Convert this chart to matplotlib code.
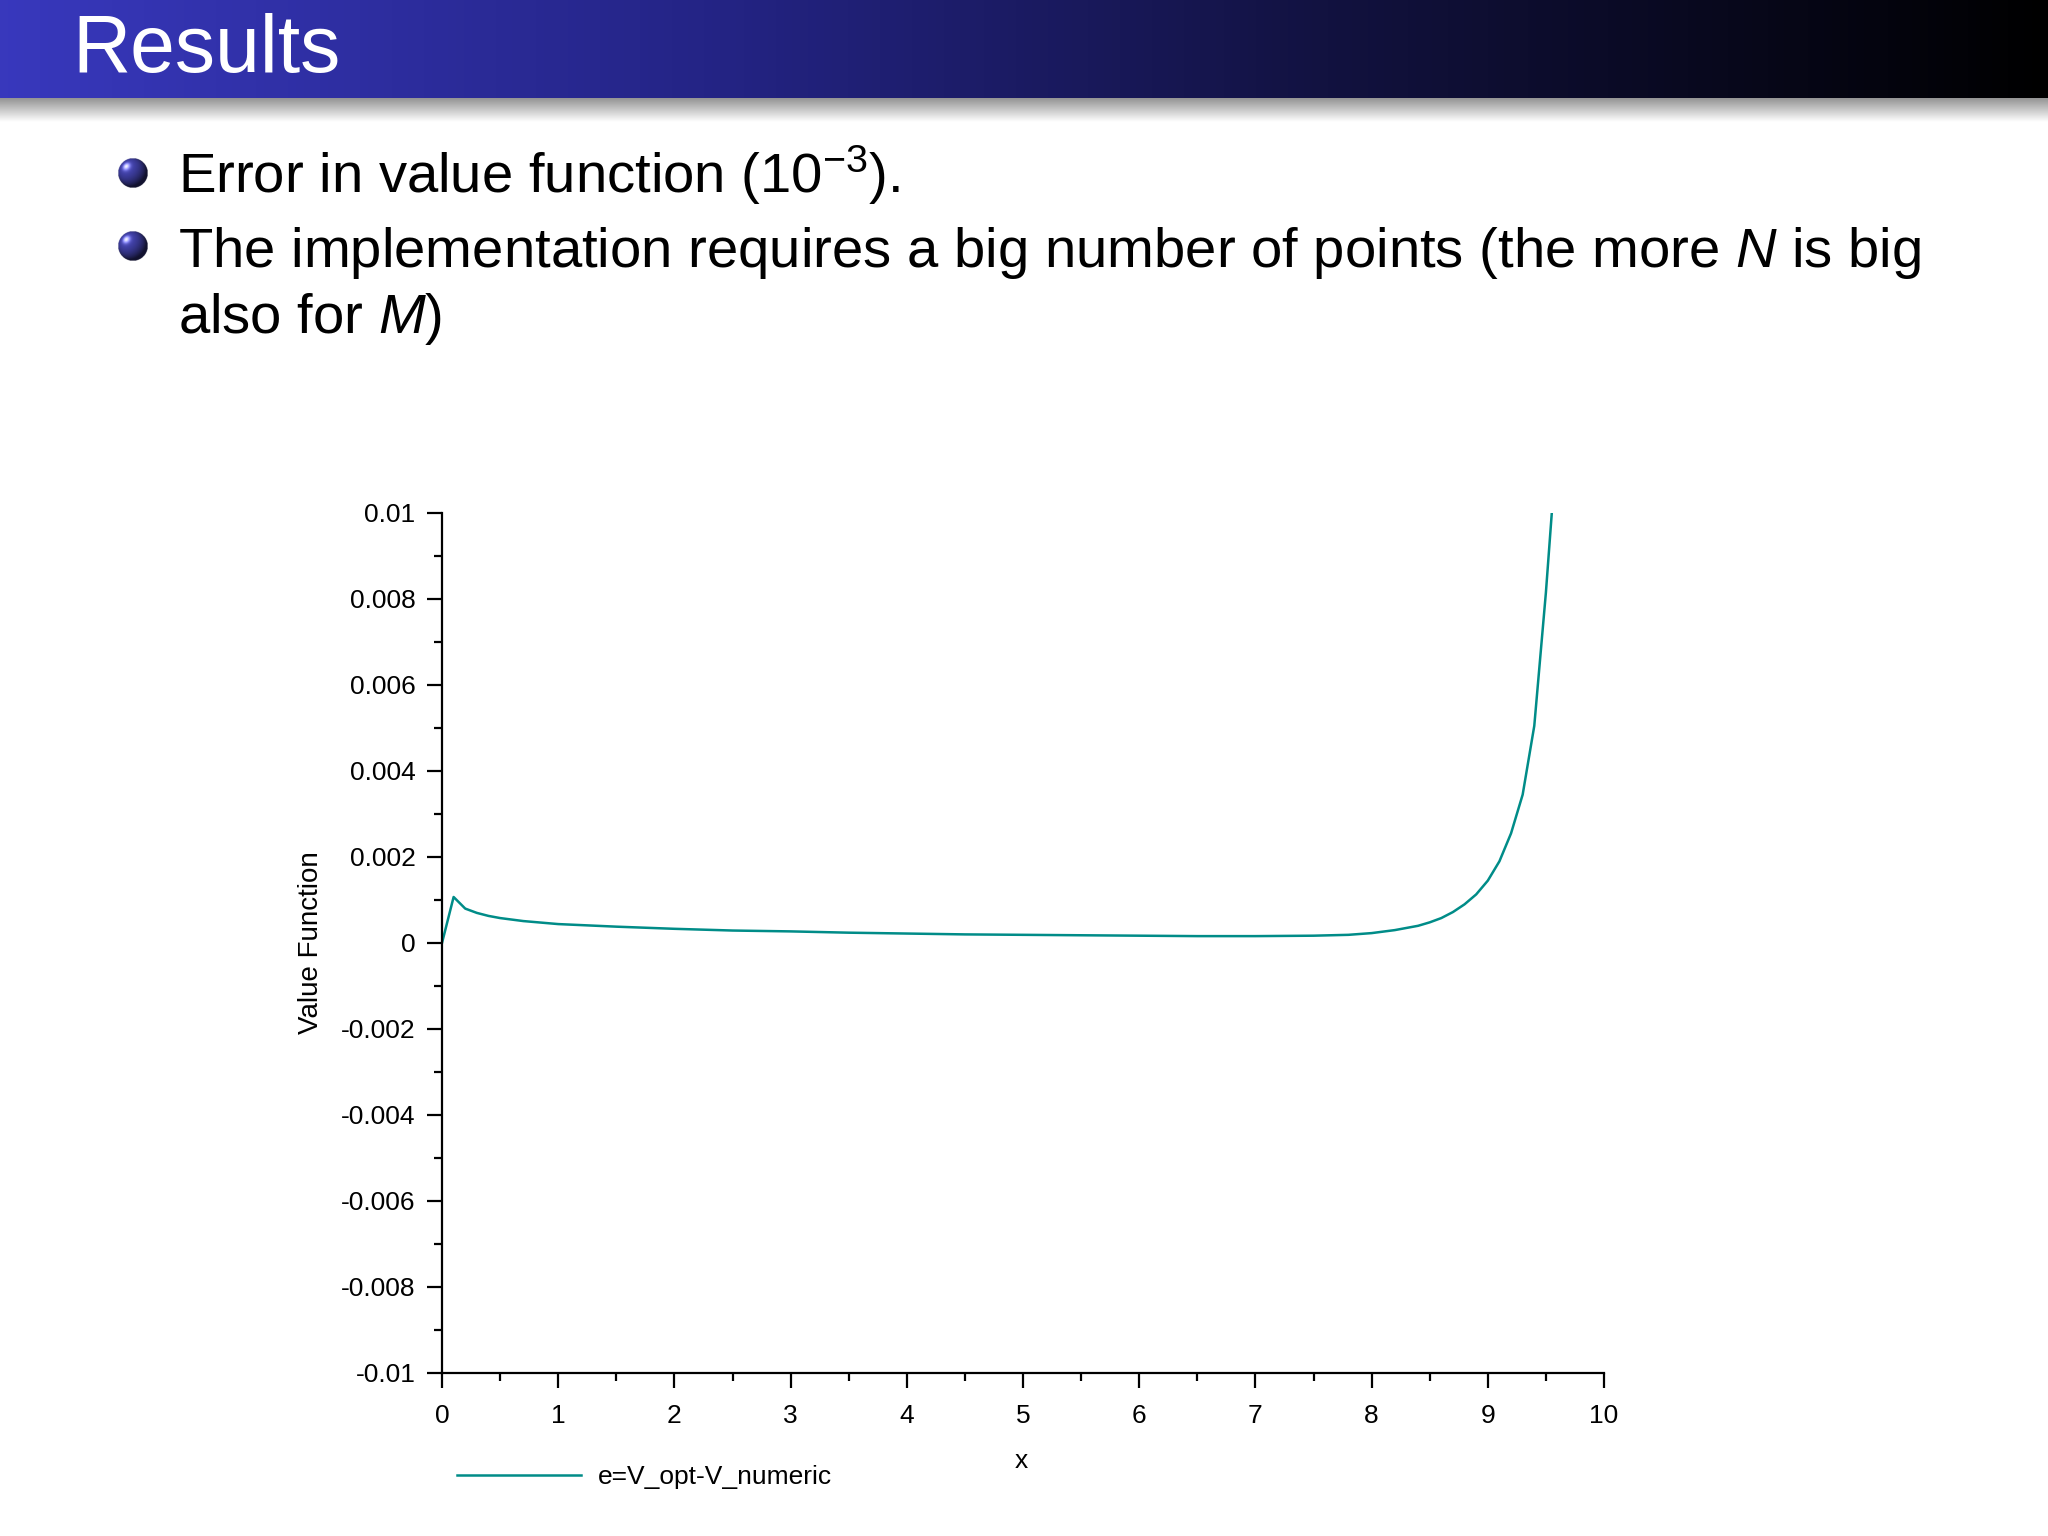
import numpy as np
import matplotlib
matplotlib.use('Agg')
import matplotlib.pyplot as plt
from matplotlib.colors import LinearSegmentedColormap
from matplotlib.ticker import MultipleLocator, FuncFormatter
from matplotlib.lines import Line2D

plt.rcParams['font.family'] = ['Liberation Sans', 'DejaVu Sans']
plt.rcParams['mathtext.fontset'] = 'custom'
plt.rcParams['mathtext.rm'] = 'Liberation Sans'
plt.rcParams['mathtext.it'] = 'Liberation Sans:italic'

# DATA
x_vals = [0.0, 0.1, 0.2, 0.3, 0.4, 0.5, 0.7, 1.0, 1.5, 2.0, 2.5, 3.0, 3.5,
          4.0, 4.5, 5.0, 5.5, 6.0, 6.5, 7.0, 7.5, 7.8, 8.0, 8.2, 8.4, 8.5,
          8.6, 8.7, 8.8, 8.9, 9.0, 9.1, 9.2, 9.3, 9.4, 9.5, 9.6]
err_vals = [0.0, 0.00107, 0.00080, 0.00070, 0.00063, 0.00058, 0.00051,
            0.00044, 0.00038, 0.00033, 0.00029, 0.00027, 0.00024, 0.00022,
            0.00020, 0.00019, 0.00018, 0.00017, 0.00016, 0.00016, 0.00017,
            0.00019, 0.00023, 0.00030, 0.00040, 0.00048, 0.00058, 0.00072,
            0.00090, 0.00113, 0.00145, 0.00190, 0.00255, 0.00345, 0.00505,
            0.00815, 0.01180]
series_label = 'e=V_opt-V_numeric'
title = 'Results'
bullets = [r'Error in value function (10$^{-3}$).',
           r'The implementation requires a big number of points (the more $N$ is big',
           r'also for $M$)']

W, H = 2048, 1536
fig = plt.figure(figsize=(W / 100, H / 100), dpi=100)

# --- HEADER BAR ---
bar_h = 98
ax_bar = fig.add_axes([0, 1 - bar_h / H, 1, bar_h / H])
cmap_bar = LinearSegmentedColormap.from_list(
    'bar', [(0.0, (0.22, 0.22, 0.74)), (0.35, (0.14, 0.14, 0.52)),
            (0.65, (0.07, 0.07, 0.25)), (1.0, (0.0, 0.0, 0.0))])
ax_bar.imshow(np.linspace(0, 1, 512)[None, :], aspect='auto', cmap=cmap_bar,
              extent=[0, 1, 0, 1])
ax_bar.axis('off')

ax_sh = fig.add_axes([0, 1 - (bar_h + 24) / H, 1, 24 / H])
cmap_sh = LinearSegmentedColormap.from_list('sh', [(0.58, 0.58, 0.58), (1, 1, 1)])
ax_sh.imshow(np.linspace(0, 1, 64)[:, None], aspect='auto', cmap=cmap_sh,
             extent=[0, 1, 0, 1])
ax_sh.axis('off')

fig.text(72 / W, 1 - 72 / H, title, color='white', fontsize=58, va='baseline')

# --- BULLETS ---
def sphere(cx, cy, r):
    a = fig.add_axes([(cx - r) / W, 1 - (cy + r) / H, 2 * r / W, 2 * r / H])
    n = 80
    yy, xx = np.mgrid[-1:1:n * 1j, -1:1:n * 1j]
    rr = np.sqrt(xx ** 2 + yy ** 2)
    z = np.sqrt(np.clip(1 - rr ** 2, 0, 1))
    # light from upper left (image rows go downward)
    shade = np.clip(-0.45 * xx - 0.45 * yy + 0.77 * z, 0, 1)
    base = np.array([0.24, 0.24, 0.62])
    col = base[None, None, :] * (0.3 + 0.85 * shade[..., None])
    spec = shade ** 30
    col = col + spec[..., None] * 0.7
    img = np.zeros((n, n, 4))
    img[..., :3] = np.clip(col, 0, 1)
    img[..., 3] = (rr <= 1).astype(float)
    a.imshow(img, extent=[-1, 1, -1, 1], origin='upper')
    a.axis('off')

sphere(133, 173, 15)
sphere(133, 246, 15)

fig.text(178 / W, 1 - 193 / H, bullets[0], fontsize=40.5, va='baseline')
fig.text(178 / W, 1 - 267 / H, bullets[1], fontsize=40.5, va='baseline')
fig.text(178 / W, 1 - 333 / H, bullets[2], fontsize=40.5, va='baseline')

# --- PLOT ---
left, right, top, bottom = 442, 1604, 513, 1373
ax = fig.add_axes([left / W, 1 - bottom / H, (right - left) / W, (bottom - top) / H])
line_color = '#008c88'
ax.plot(x_vals, err_vals, color=line_color, linewidth=1.8)
ax.set_xlim(0, 10)
ax.set_ylim(-0.01, 0.01)
ax.spines['top'].set_visible(False)
ax.spines['right'].set_visible(False)
for s in ('left', 'bottom'):
    ax.spines[s].set_linewidth(1.6)
ax.xaxis.set_major_locator(MultipleLocator(1))
ax.xaxis.set_minor_locator(MultipleLocator(0.5))
ax.yaxis.set_major_locator(MultipleLocator(0.002))
ax.yaxis.set_minor_locator(MultipleLocator(0.001))
ax.yaxis.set_major_formatter(FuncFormatter(lambda v, p: '%g' % round(v, 6)))
ax.tick_params(which='major', length=11, width=1.6, labelsize=19)
ax.tick_params(which='minor', length=5.5, width=1.6)
ax.tick_params(axis='y', which='major', pad=8)
ax.tick_params(axis='x', which='major', pad=11)

fig.text(311 / W, 1 - 943 / H, 'Value Function', rotation=90, fontsize=20,
         ha='center', va='center')
fig.text(1021 / W, 1 - 1461 / H, 'x', fontsize=19, ha='center', va='center')

handle = Line2D([], [], color=line_color, linewidth=1.8)
fig.legend([handle], [series_label], loc='center left',
           bbox_to_anchor=(457 / W, 1 - 1477 / H), frameon=False,
           borderpad=0, borderaxespad=0, handlelength=4.7, handletextpad=0.65,
           fontsize=19)

fig.savefig('out.png', dpi=100)
